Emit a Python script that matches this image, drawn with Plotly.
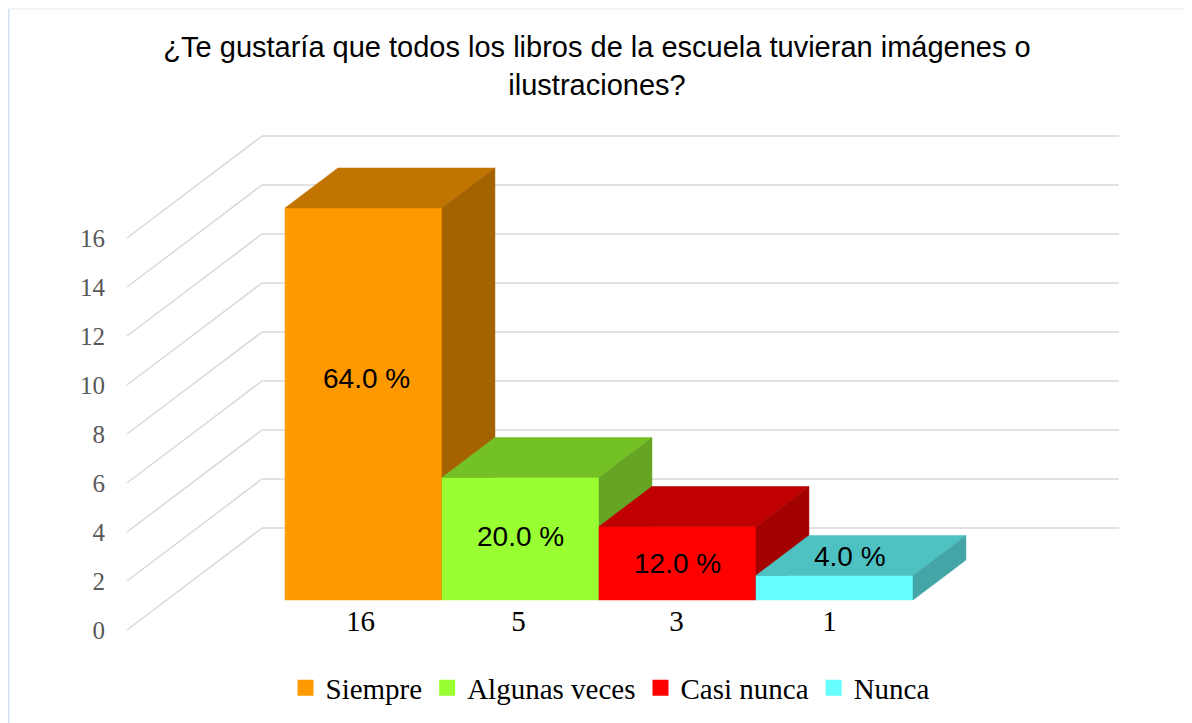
import plotly.graph_objects as go

# ---------------- data ----------------
categories = ["Siempre", "Algunas veces", "Casi nunca", "Nunca"]
counts = [16, 5, 3, 1]
percent_labels = ["64.0 %", "20.0 %", "12.0 %", "4.0 %"]
y_ticks = [0, 2, 4, 6, 8, 10, 12, 14, 16]
title_text = "¿Te gustaría que todos los libros de la escuela tuvieran imágenes o<br>ilustraciones?"

# ---------------- style ----------------
front_colors = ["#FF9900", "#99FF33", "#FF0000", "#66FFFF"]
top_colors = ["#C27400", "#74C126", "#C00000", "#4EC2C2"]
side_colors = ["#A46200", "#66A424", "#A30000", "#43A5A5"]
label_shift_x = [3, 0, 0, 15]
label_shift_y = [26, 2, 0, 31]
tick_shift_x = [-3, -2, -1, -5]

OFF = 8                      # page body margin
W, H = 1192 - OFF, 723 - OFF
PX_CAT = 157.0               # pixels per category
PX_UNIT = 24.5               # pixels per value unit
X0 = 245.3 - OFF             # pixel of x = 0 at the front plane
Y0 = 630.0 - OFF             # pixel of value 0 at the front plane
DEPTH_DX = 135.0             # oblique projection of full depth
DEPTH_DY = 102.0
KX = DEPTH_DX / PX_CAT
KY = DEPTH_DY / PX_UNIT
D_FRONT = 30.0 / DEPTH_DY
D_BACK = 70.0 / DEPTH_DY
X_LEFT = (127.0 - OFF - X0) / PX_CAT
X_RIGHT = (1119.0 - OFF - DEPTH_DX - X0) / PX_CAT


def proj(x, v, d):
    return x + d * KX, v + d * KY


def poly(points):
    xs, ys = [], []
    for (x, v, d) in points:
        px, py = proj(x, v, d)
        xs.append(px)
        ys.append(py)
    xs.append(xs[0])
    ys.append(ys[0])
    return xs, ys


fig = go.Figure()

# walls: back gridlines and diagonals on the left wall
gx, gy = [], []
for v in y_ticks:
    for a, b in [((X_LEFT, v, 0), (X_LEFT, v, 1)), ((X_LEFT, v, 1), (X_RIGHT, v, 1))]:
        p1, p2 = proj(*a), proj(*b)
        gx += [p1[0], p2[0], None]
        gy += [p1[1], p2[1], None]
fig.add_trace(go.Scatter(x=gx, y=gy, mode="lines",
                         line=dict(color="#D9D9D9", width=1.5),
                         hoverinfo="skip", showlegend=False))

# bars drawn left to right, each as front, top and side faces
for i, (cat, v) in enumerate(zip(categories, counts)):
    faces = [
        ([(i, 0, D_FRONT), (i + 1, 0, D_FRONT), (i + 1, v, D_FRONT), (i, v, D_FRONT)], front_colors[i]),
        ([(i, v, D_FRONT), (i + 1, v, D_FRONT), (i + 1, v, D_BACK), (i, v, D_BACK)], top_colors[i]),
        ([(i + 1, 0, D_FRONT), (i + 1, 0, D_BACK), (i + 1, v, D_BACK), (i + 1, v, D_FRONT)], side_colors[i]),
    ]
    for pts, col in faces:
        xs, ys = poly(pts)
        fig.add_trace(go.Scatter(x=xs, y=ys, mode="lines", fill="toself",
                                 fillcolor=col, line=dict(color=col, width=0.5),
                                 hoverinfo="skip", showlegend=False))

# legend entries
for cat, col in zip(categories, front_colors):
    fig.add_trace(go.Scatter(x=[None], y=[None], mode="markers", name=cat,
                             marker=dict(symbol="square", size=16, color=col)))

# data labels
for i, (v, lab) in enumerate(zip(counts, percent_labels)):
    lx, ly = proj(i + 0.5, v / 2.0, D_FRONT)
    fig.add_annotation(x=lx, y=ly, text=lab, showarrow=False,
                       xshift=label_shift_x[i], yshift=label_shift_y[i],
                       font=dict(family="Liberation Sans, Arial", size=28, color="#000000"))

cat_tick_pos = [proj(i + 0.5, 0, D_FRONT)[0] + tick_shift_x[i] / PX_CAT
                for i in range(len(counts))]

fig.update_layout(
    width=W, height=H,
    margin=dict(l=0, r=0, t=0, b=0),
    paper_bgcolor="white", plot_bgcolor="white",
    hovermode=False,
    title=dict(text=title_text, x=(597.0 - OFF) / W, xanchor="center",
               y=1 - 49.0 / H, yanchor="middle",
               font=dict(family="Liberation Sans, Arial", size=29, color="#000000")),
    xaxis=dict(range=[-X0 / PX_CAT, (W - X0) / PX_CAT],
               tickvals=cat_tick_pos,
               ticktext=[str(c) for c in counts],
               tickfont=dict(family="Liberation Serif, serif", size=29, color="#000000"),
               showgrid=False, zeroline=False, showline=False, ticks="",
               anchor="free", position=(H - (601.0 - OFF)) / H),
    yaxis=dict(range=[(Y0 - H) / PX_UNIT, Y0 / PX_UNIT],
               tickvals=y_ticks,
               tickfont=dict(family="Liberation Serif, serif", size=25, color="#595959"),
               showgrid=False, zeroline=False, showline=False, ticks="",
               ticklabelstandoff=22,
               anchor="free", position=(127.0 - OFF) / W),
    legend=dict(orientation="h", x=(610.0 - OFF) / W, xanchor="center",
                y=(H - (688.0 - OFF)) / H, yanchor="middle",
                font=dict(family="Liberation Serif, serif", size=29, color="#000000"),
                bgcolor="rgba(0,0,0,0)"),
    shapes=[
        dict(type="line", xref="paper", yref="paper", x0=0.5 / W, x1=0.5 / W,
             y0=0, y1=1 - 1.0 / H, line=dict(color="#D6E1EF", width=2)),
        dict(type="line", xref="paper", yref="paper", x0=0.5 / W, x1=1,
             y0=1 - 1.0 / H, y1=1 - 1.0 / H, line=dict(color="#EEF1F6", width=1.5)),
    ],
)

fig.write_html("out.html")
